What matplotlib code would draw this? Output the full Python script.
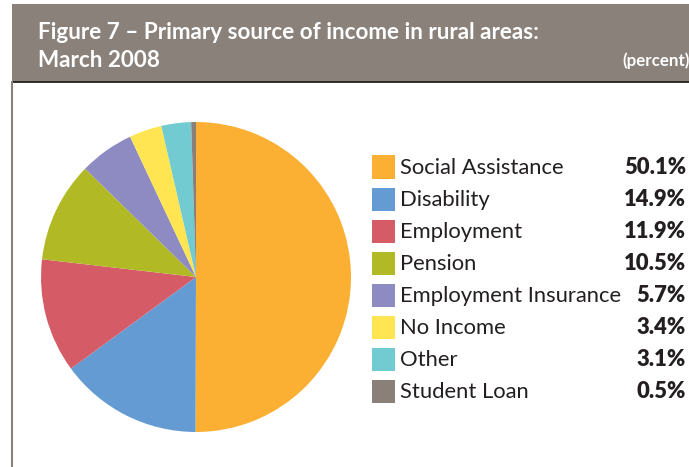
import matplotlib
matplotlib.use('Agg')
import matplotlib.pyplot as plt
from matplotlib.patches import Rectangle

# Data
categories = ['Social Assistance', 'Disability', 'Employment', 'Pension',
              'Employment Insurance', 'No Income', 'Other', 'Student Loan']
shares = [50.1, 14.9, 11.9, 10.5, 5.7, 3.4, 3.1, 0.5]
share_labels = ['50.1%', '14.9%', '11.9%', '10.5%', '5.7%', '3.4%', '3.1%', '0.5%']
colors = ['#FBB034', '#659BD3', '#D55C67', '#B1BA25',
          '#8E8BC3', '#FFE552', '#72CBD1', '#8A7F79']

title_lines = ['Figure 7 \u2013 Primary source of income in rural areas:', 'March 2008']
unit_text = '(percent)'

plt.rcParams['font.family'] = ['Lato', 'DejaVu Sans']

W, H = 689, 467
fig = plt.figure(figsize=(W / 100, H / 100), dpi=100)

def px(x, y):
    # pixel coords (top-left origin) -> figure fraction
    return x / W, 1 - y / H

# Header banner
hx0, hy0 = px(12, 4)
hx1, hy1 = px(W + 5, 82)
fig.patches.append(Rectangle((hx0, hy1), hx1 - hx0, hy0 - hy1, transform=fig.transFigure,
                             facecolor='#8A817A', edgecolor='none', zorder=0))
fig.add_artist(plt.Line2D([hx0, 1], [hy1, hy1], transform=fig.transFigure, color='#231F20', lw=1.3))
fig.add_artist(plt.Line2D([hx0, hx0], [0, hy1], transform=fig.transFigure, color='#8A817A', lw=1.5))

fig.text(*px(38, 39), title_lines[0], color='white', fontsize=16.2, fontweight='bold', va='baseline')
fig.text(*px(38, 67), title_lines[1], color='white', fontsize=16.2, fontweight='bold', va='baseline')
fig.text(*px(690, 66), unit_text, color='white', fontsize=12.2, fontweight='bold', ha='right', va='baseline')

# Pie
cx, cy, r = 196, 277, 155
ax = fig.add_axes([(cx - r) / W, (H - cy - r) / H, 2 * r / W, 2 * r / H])
ax.pie(shares, colors=colors, startangle=90, counterclock=False, radius=1,
       wedgeprops=dict(linewidth=0))
ax.set_xlim(-1, 1)
ax.set_ylim(-1, 1)
ax.set_aspect('equal')
ax.axis('off')

# Legend
row0, pitch = 167, 32
for i, (cat, lab, col) in enumerate(zip(categories, share_labels, colors)):
    yc = row0 + i * pitch
    x0, y0 = px(372, yc + 11.5)
    fig.patches.append(Rectangle((x0, y0), 23 / W, 23 / H, transform=fig.transFigure,
                                 facecolor=col, edgecolor='none'))
    fig.text(*px(400, yc + 1), cat, color='#231F20', fontsize=15.8, va='center')
    fig.text(*px(686, yc + 1), lab, color='#231F20', fontsize=15.8, fontweight='heavy',
             ha='right', va='center')

fig.savefig('out.png', dpi=100)
